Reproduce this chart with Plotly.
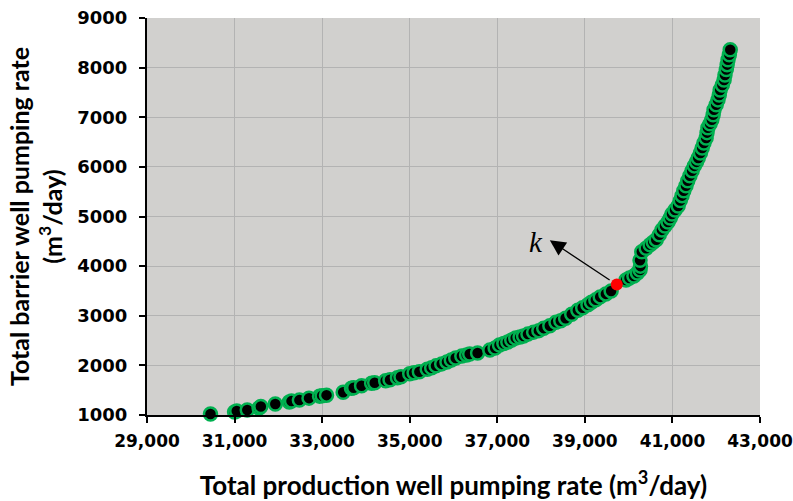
import plotly.graph_objects as go

# Pareto front points (total production, total barrier), m3/day
prod = [30450, 31000, 31050, 31290, 31560, 31600, 31930, 32250, 32300, 32480, 32700,
        32940, 33000, 33100, 33480, 33670, 33720, 33900, 34130, 34200, 34450, 34550,
        34720, 34800, 35000, 35100, 35220, 35400, 35500, 35600, 35730, 35850, 35950,
        36050, 36190, 36300, 36370, 36550, 36830, 36950, 37050, 37150, 37240, 37330,
        37420, 37520, 37600, 37700, 37830, 37950, 38060, 38200, 38340, 38450, 38560,
        38700, 38840, 38950, 39070, 39150, 39250, 39350, 39480, 39600, 39940, 40020,
        40120, 40200, 40260, 40270, 40260, 40300, 40400, 40490, 40560, 40630, 40700,
        40760, 40830, 40900, 40950, 40990, 41060, 41130, 41180, 41220, 41260, 41310,
        41350, 41400, 41450, 41500, 41550, 41590, 41640, 41680, 41720, 41770, 41790,
        41810, 41860, 41900, 41930, 41950, 42000, 42040, 42070, 42090, 42140, 42180,
        42200, 42230, 42250, 42270, 42300, 42320]
barrier = [1020, 1060, 1080, 1100, 1140, 1170, 1220, 1260, 1280, 1300, 1340,
           1380, 1390, 1400, 1460, 1540, 1550, 1590, 1640, 1650, 1690, 1710,
           1750, 1770, 1830, 1850, 1870, 1920, 1950, 1990, 2030, 2070, 2110,
           2150, 2190, 2210, 2230, 2250, 2310, 2350, 2410, 2440, 2470, 2510,
           2550, 2570, 2590, 2630, 2670, 2700, 2750, 2800, 2870, 2900, 2950,
           3030, 3110, 3160, 3220, 3270, 3320, 3380, 3440, 3500, 3720, 3760,
           3800, 3860, 3920, 4000, 4120, 4290, 4360, 4430, 4480, 4530, 4630,
           4730, 4810, 4890, 4970, 5050, 5130, 5210, 5320, 5420, 5520, 5620,
           5720, 5820, 5920, 6020, 6100, 6180, 6280, 6380, 6480, 6580, 6690,
           6790, 6870, 6950, 7050, 7150, 7250, 7350, 7450, 7550, 7650, 7750,
           7850, 7960, 8060, 8160, 8260, 8360]

k_prod = [39730]
k_barrier = [3630]

x_ticks = [29000, 31000, 33000, 35000, 37000, 39000, 41000, 43000]
y_ticks = [1000, 2000, 3000, 4000, 5000, 6000, 7000, 8000, 9000]

fig = go.Figure()
fig.add_trace(go.Scatter(
    x=prod, y=barrier, mode="markers", cliponaxis=False,
    marker=dict(size=13, color="black", line=dict(color="#00b050", width=2.5)),
    showlegend=False))
fig.add_trace(go.Scatter(
    x=k_prod, y=k_barrier, mode="markers", cliponaxis=False,
    marker=dict(size=12, color="#ff0000", line=dict(color="#ff0000", width=0)),
    showlegend=False))

# arrow from k-point towards label
fig.add_annotation(x=38200, y=4520, ax=39600, ay=3700,
                   xref="x", yref="y", axref="x", ayref="y",
                   text="", showarrow=True, arrowhead=2, arrowsize=2.4,
                   arrowwidth=1.3, arrowcolor="black", standoff=0, startstandoff=0)
fig.add_annotation(x=37880, y=4490, xref="x", yref="y", text="<i>k</i>",
                   showarrow=False,
                   font=dict(family="Liberation Serif, serif", size=29, color="black"))

font_fam = "Lato, Open Sans, sans-serif"
tick_fam = "DejaVu Sans, sans-serif"
fig.update_layout(
    width=793, height=501,
    margin=dict(l=147, r=33, t=18, b=86, autoexpand=False),
    paper_bgcolor="white", plot_bgcolor="#d1d0ce",
    font=dict(family=font_fam, color="black"),
    xaxis=dict(range=[29000, 43000], tickvals=x_ticks,
               ticktext=[f"<b>{v:,}</b>" for v in x_ticks],
               tickfont=dict(size=17, family=tick_fam),
               ticklabelstandoff=4,
               showgrid=True, gridcolor="#b3b3b3", gridwidth=1,
               showline=True, linecolor="black", linewidth=2,
               ticks="outside", ticklen=6, tickwidth=2, tickcolor="black",
               zeroline=False, automargin=False,
               title=dict(text="<b>Total production well pumping rate (m<sup>3</sup>/day)</b>",
                          font=dict(size=26, family=font_fam), standoff=26)),
    yaxis=dict(range=[1000, 9000], tickvals=y_ticks,
               ticktext=[f"<b>{v}</b>" for v in y_ticks],
               tickfont=dict(size=18, family=tick_fam),
               ticklabelstandoff=8,
               showgrid=True, gridcolor="#b3b3b3", gridwidth=1,
               showline=True, linecolor="black", linewidth=2,
               ticks="outside", ticklen=6, tickwidth=2, tickcolor="black",
               zeroline=False, automargin=False,
               title=dict(text="<b>Total barrier well pumping rate<br>(m<sup>3</sup>/day)</b>",
                          font=dict(size=25, family=font_fam), standoff=8)),
)

fig.write_html("out.html")
